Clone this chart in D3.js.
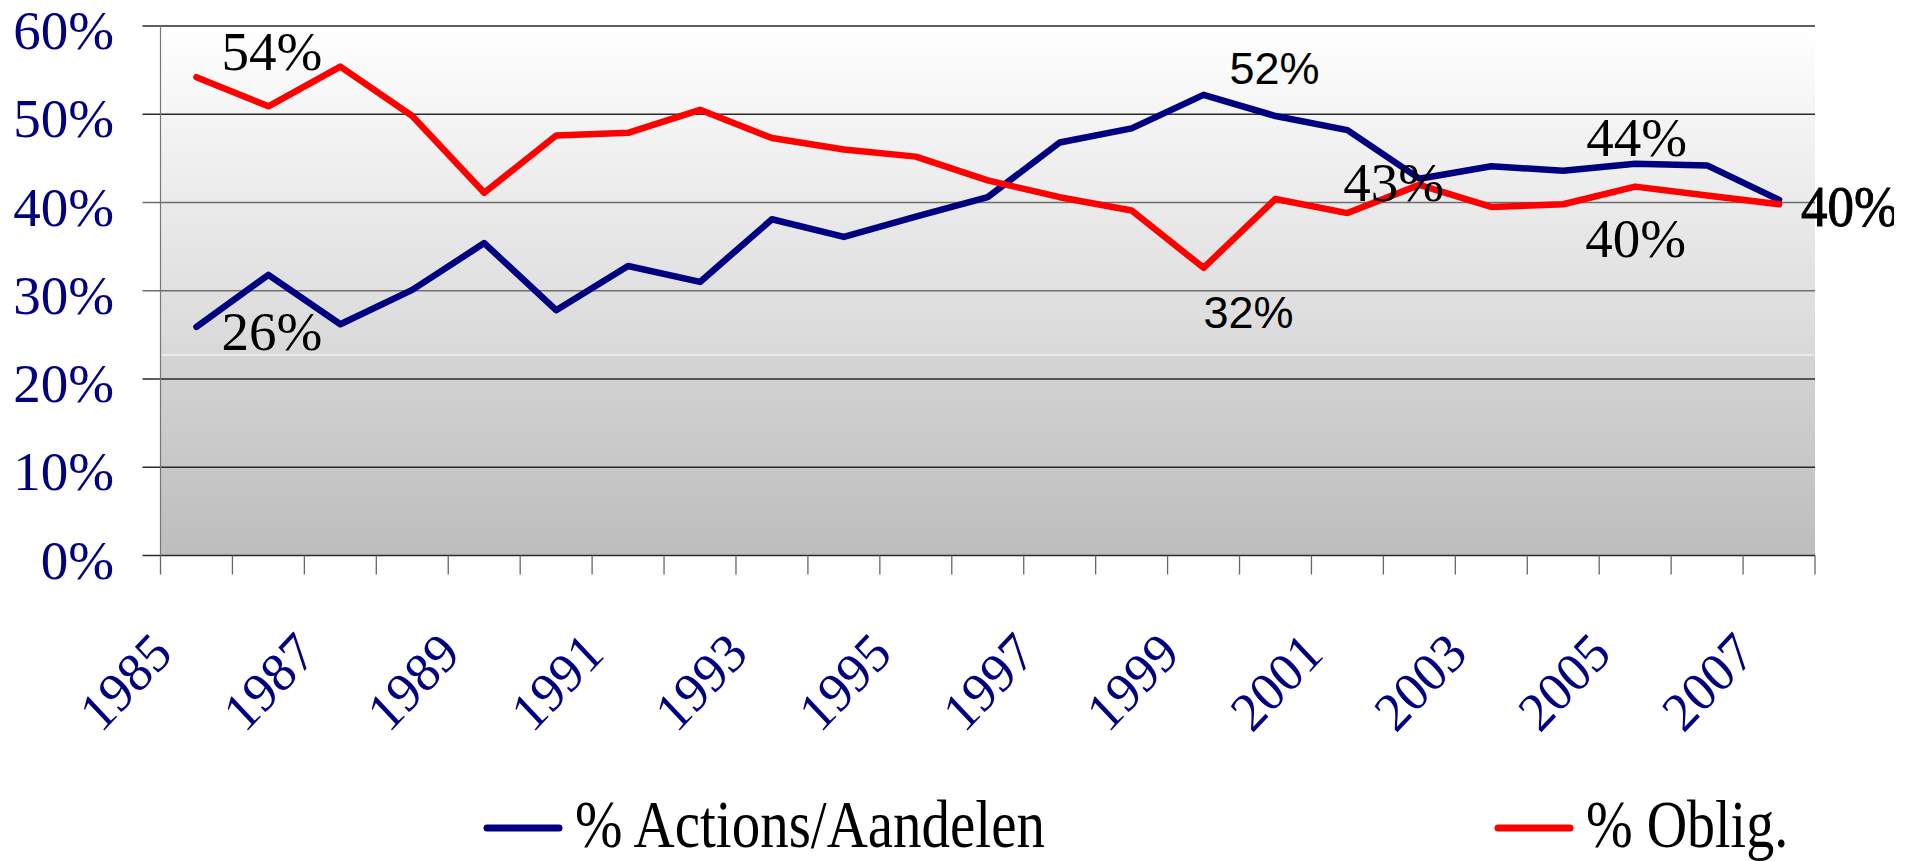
<!DOCTYPE html>
<html>
<head>
<meta charset="utf-8">
<script src="https://cdn.jsdelivr.net/npm/d3@7"></script>
<style>
  body { margin: 0; background: #fff; }
  svg { display: block; }
</style>
</head>
<body>
<svg id="viz" width="1919" height="861"></svg>
<script>
const width = 1919;
const height = 861;
const svg = d3.select("#viz");

// data
const years = [1985, 1986, 1987, 1988, 1989, 1990, 1991, 1992, 1993, 1994, 1995, 1996,
               1997, 1998, 1999, 2000, 2001, 2002, 2003, 2004, 2005, 2006, 2007];
const actions = [25.9, 31.8, 26.2, 30.1, 35.4, 27.8, 32.8, 31.0, 38.1, 36.1, 38.4, 40.6,
                 46.8, 48.4, 52.2, 49.8, 48.2, 42.7, 44.1, 43.6, 44.4, 44.2, 40.3];
const oblig = [54.2, 50.9, 55.4, 49.8, 41.1, 47.6, 47.9, 50.5, 47.3, 46.0, 45.2, 42.5,
               40.6, 39.1, 32.6, 40.4, 38.8, 42.0, 39.5, 39.8, 41.8, 40.8, 39.8];
const yTicks = [0, 10, 20, 30, 40, 50, 60];
const xLabels = [1985, 1987, 1989, 1991, 1993, 1995, 1997, 1999, 2001, 2003, 2005, 2007];
const seriesNames = ["% Actions/Aandelen", "% Oblig."];

// data labels: series, year, text
const dataLabels = [
    { s: "oblig",   year: 1985, text: "54%" },
    { s: "actions", year: 1985, text: "26%" },
    { s: "actions", year: 1999, text: "52%" },
    { s: "oblig",   year: 1999, text: "32%" },
    { s: "actions", year: 2002, text: "43%" },
    { s: "actions", year: 2005, text: "44%" },
    { s: "oblig",   year: 2005, text: "40%" },
    { s: "actions", year: 2007, text: "40%" }
];

const serif = "'Liberation Serif', 'Times New Roman', serif";
const sans = "'Liberation Sans', Arial, sans-serif";
const navy = "#000080";
const red = "#ff0000";

// plot area
const plotL = 160.5, plotR = 1815, plotT = 26, plotB = 555.5;

const x = d3.scaleBand().domain(years).range([plotL, plotR]).padding(0);
const cx = d => x(d) + x.bandwidth() / 2;
const y = d3.scaleLinear().domain([0, 60]).range([plotB, plotT]);

// background gradients (two parts, white seam between)
const defs = svg.append("defs");
const g1 = defs.append("linearGradient").attr("id", "bg1").attr("x1", 0).attr("y1", 0).attr("x2", 0).attr("y2", 1);
g1.append("stop").attr("offset", 0).attr("stop-color", "#ffffff");
g1.append("stop").attr("offset", 1).attr("stop-color", "#d9d9d9");
const g2 = defs.append("linearGradient").attr("id", "bg2").attr("x1", 0).attr("y1", 0).attr("x2", 0).attr("y2", 1);
g2.append("stop").attr("offset", 0).attr("stop-color", "#d4d4d4");
g2.append("stop").attr("offset", 1).attr("stop-color", "#bdbdbd");
defs.append("clipPath").attr("id", "clipEnd")
    .append("rect").attr("x", 0).attr("y", 0).attr("width", 1894).attr("height", height);

const seam = 354.5;
svg.append("rect").attr("x", plotL).attr("y", plotT).attr("width", plotR - plotL)
    .attr("height", seam - plotT).attr("fill", "url(#bg1)");
svg.append("rect").attr("x", plotL).attr("y", seam + 1).attr("width", plotR - plotL)
    .attr("height", plotB - seam - 1).attr("fill", "url(#bg2)");

// gridlines + y labels
svg.selectAll(".grid")
    .data(yTicks)
    .enter().append("line")
    .attr("class", "grid")
    .attr("x1", plotL - 18).attr("x2", plotR)
    .attr("y1", d => y(d)).attr("y2", d => y(d))
    .attr("stroke", d => (d === 30 || d === 40) ? "#6e6e6e" : "#2a2a2a")
    .attr("stroke-width", 1.3);

svg.selectAll(".ylab")
    .data(yTicks)
    .enter().append("text")
    .attr("class", "ylab")
    .attr("x", 114)
    .attr("y", d => y(d) + 23)
    .attr("text-anchor", "end")
    .attr("font-family", serif)
    .attr("font-size", 55)
    .attr("fill", navy)
    .text(d => d + "%");

// y axis line
svg.append("line")
    .attr("x1", plotL).attr("x2", plotL).attr("y1", plotT).attr("y2", plotB)
    .attr("stroke", "#777").attr("stroke-width", 1.2);

// category tick marks at band boundaries
const bounds = years.map(d => x(d)).concat([plotR]);
svg.selectAll(".xtick")
    .data(bounds)
    .enter().append("line")
    .attr("class", "xtick")
    .attr("x1", d => d).attr("x2", d => d)
    .attr("y1", plotB).attr("y2", plotB + 19)
    .attr("stroke", "#666").attr("stroke-width", 1.3);

// x labels, rotated 45°
svg.selectAll(".xlab")
    .data(xLabels)
    .enter().append("text")
    .attr("class", "xlab")
    .attr("transform", d => `translate(${cx(d) - 22},656) scale(1,1.06) rotate(-45)`)
    .attr("text-anchor", "end")
    .attr("font-family", serif)
    .attr("font-size", 52)
    .attr("fill", navy)
    .text(d => d);

// lines
const line = d3.line()
    .x((d, i) => cx(years[i]))
    .y(d => y(d));

svg.append("path")
    .datum(actions)
    .attr("d", line)
    .attr("fill", "none")
    .attr("stroke", navy)
    .attr("stroke-width", 6.5)
    .attr("stroke-linejoin", "round")
    .attr("stroke-linecap", "round");

svg.append("path")
    .datum(oblig)
    .attr("d", line)
    .attr("fill", "none")
    .attr("stroke", red)
    .attr("stroke-width", 6.5)
    .attr("stroke-linejoin", "round")
    .attr("stroke-linecap", "round");

// data labels
const labelStyle = {
    "oblig-1985":   { dx: 25, dy: -7, font: serif, size: 55 },
    "actions-1985": { dx: 25, dy: 23, font: serif, size: 55 },
    "actions-1999": { dx: 26, dy: -11, font: sans, size: 45 },
    "oblig-1999":   { dx: 0, dy: 60, font: sans, size: 45 },
    "actions-2002": { dx: -76, dy: 22, font: serif, size: 55 },
    "actions-2005": { dx: -49, dy: -8, font: serif, size: 55 },
    "oblig-2005":   { dx: -50, dy: 70, font: serif, size: 55 },
    "actions-2007": { dx: 22, dy: 26, font: serif, size: 53, sy: 1.06, outline: true }
};
const seriesVals = { actions, oblig };
const labelLayer = svg.append("g");
const endLayer = svg.append("g").attr("clip-path", "url(#clipEnd)");

dataLabels.forEach(l => {
    const st = labelStyle[`${l.s}-${l.year}`];
    const v = seriesVals[l.s][years.indexOf(l.year)];
    const t = (st.outline ? endLayer : labelLayer).append("text")
        .attr("transform", `translate(${cx(l.year) + st.dx},${y(v) + st.dy}) scale(1,${st.sy || 1})`)
        .attr("font-family", st.font)
        .attr("font-size", st.size)
        .attr("fill", "#000")
        .text(l.text);
    if (st.outline) {
        t.attr("stroke", "#000").attr("stroke-width", 0.9);
    }
});

// legend
const legend = [
    { name: seriesNames[0], color: navy, x: 487, size: 57 },
    { name: seriesNames[1], color: red, x: 1498, size: 56 }
];
const legY = 828;
legend.forEach(d => {
    svg.append("line")
        .attr("x1", d.x).attr("x2", d.x + 72)
        .attr("y1", legY).attr("y2", legY)
        .attr("stroke", d.color).attr("stroke-width", 7)
        .attr("stroke-linecap", "round");
    svg.append("text")
        .attr("transform", `translate(${d.x + 88},847) scale(1,1.2)`)
        .attr("font-family", serif)
        .attr("font-size", d.size)
        .attr("fill", "#000")
        .text(d.name);
});
</script>
</body>
</html>
